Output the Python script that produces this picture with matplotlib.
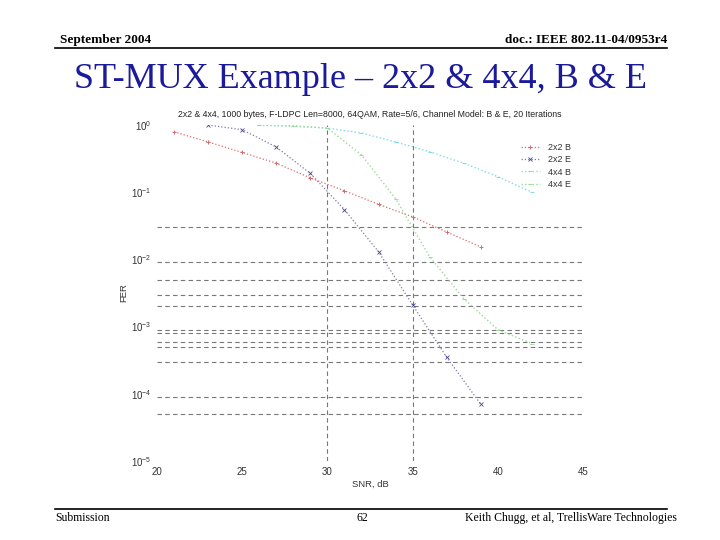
import matplotlib
matplotlib.use("Agg")
import matplotlib.pyplot as plt
from matplotlib.lines import Line2D
import matplotlib.ticker as mticker

# ---------------- data ----------------
snr_2x2_B = [21, 23, 25, 27, 29, 31, 33, 35, 37, 39]
fer_2x2_B = [0.79, 0.56, 0.39, 0.27, 0.163, 0.105, 0.066, 0.043, 0.0256, 0.0153]

snr_2x2_E = [23, 25, 27, 29, 31, 33, 35, 37, 39]
fer_2x2_E = [1.0, 0.85, 0.47, 0.19, 0.055, 0.013, 0.0021, 0.00035, 0.00007]

snr_4x4_B = [26, 28, 30, 32, 34, 36, 38, 40, 42]
fer_4x4_B = [0.99, 0.96, 0.90, 0.76, 0.56, 0.40, 0.27, 0.17, 0.10]

snr_4x4_E = [26, 28, 30, 32, 34, 36, 38, 40, 42]
fer_4x4_E = [1.0, 0.97, 0.90, 0.36, 0.08, 0.011, 0.0026, 0.0009, 0.00056]

series_labels = ["2x2 B", "2x2 E", "4x4 B", "4x4 E"]
x_ticks = [20, 25, 30, 35, 40, 45]
y_ticks = [1e0, 1e-1, 1e-2, 1e-3, 1e-4, 1e-5]
y_tick_labels = [r"$10^{0}$", r"$10^{-1}$", r"$10^{-2}$", r"$10^{-3}$", r"$10^{-4}$", r"$10^{-5}$"]
x_grid = [30, 35]
y_grid = [0.03, 0.01, 0.009, 0.005, 0.003, 0.002, 0.001, 0.0009, 0.0008,
          0.0006, 0.0005, 0.0003, 0.00009, 0.00005]

slide_title = "ST-MUX Example \u2013 2x2 & 4x4, B & E"
plot_title = ("2x2 & 4x4, 1000 bytes, F-LDPC Len=8000, 64QAM, Rate=5/6, "
              "Channel Model: B & E, 20 Iterations")

# ---------------- figure ----------------
plt.rcParams["mathtext.fontset"] = "custom"
plt.rcParams["mathtext.rm"] = "Liberation Sans"
plt.rcParams["mathtext.it"] = "Liberation Sans"
plt.rcParams["mathtext.bf"] = "Liberation Sans"

fig = plt.figure(figsize=(7.2, 5.4), dpi=100)
fig.patch.set_facecolor("white")

serif = "Liberation Serif"
sans = "Liberation Sans"

# header / footer
fig.text(60/720, 1-40/540, "September 2004", family=serif, weight="bold",
         fontsize=9.5, ha="left", va="center")
fig.text(667/720, 1-40/540, "doc.: IEEE 802.11-04/0953r4", family=serif,
         weight="bold", fontsize=9.5, ha="right", va="center")
fig.add_artist(Line2D([55/720, 667/720], [1-48/540, 1-48/540], color="black", lw=1.2))
fig.text(360/720, 1-80/540, slide_title, family=serif, fontsize=26,
         color="#1a1a9a", ha="center", va="center")
fig.add_artist(Line2D([55/720, 667/720], [1-509/540, 1-509/540], color="black", lw=1.2))
fig.text(55/720, 1-518/540, "Submission", family=serif, fontsize=8.5,
         ha="left", va="center")
fig.text(362/720, 1-518/540, "62", family=serif, fontsize=8.5,
         ha="center", va="center")
fig.text(677/720, 1-518/540, "Keith Chugg, et al, TrellisWare Technologies",
         family=serif, fontsize=8.5, ha="right", va="center")

# axes
ax = fig.add_axes([157/720, 1-461/540, (583-157)/720, (461-125)/540])
ax.set_yscale("log")
ax.set_xlim(20, 45)
ax.set_ylim(1e-5, 1)

ax.plot(snr_2x2_B, fer_2x2_B, linestyle=":", color="#d86a6a", lw=0.9,
        marker="+", ms=3.5, mew=0.7, label=series_labels[0])
ax.plot(snr_2x2_E, fer_2x2_E, linestyle=":", color="#7a7aa6", lw=0.9,
        marker="x", ms=2.5, mew=0.6, mec="#4a4a90", label=series_labels[1])
ax.plot(snr_4x4_B, fer_4x4_B, linestyle=":", color="#7fdce4", lw=1.0,
        marker="_", ms=3.5, mew=0.7, label=series_labels[2])
ax.plot(snr_4x4_E, fer_4x4_E, linestyle=":", color="#9adc9a", lw=1.0,
        marker="_", ms=3.5, mew=0.7, label=series_labels[3])

ax.set_xticks(x_ticks)
ax.set_xticklabels([str(t) for t in x_ticks])
ax.set_yticks(y_ticks)
ax.set_yticklabels(y_tick_labels)
ax.xaxis.remove_overlapping_locs = False
ax.set_xticks(x_grid, minor=True)
ax.set_yticks(y_grid, minor=True)
ax.xaxis.set_minor_formatter(mticker.NullFormatter())
ax.yaxis.set_minor_formatter(mticker.NullFormatter())
ax.tick_params(which="both", length=0, labelsize=7, colors="#333333", pad=4)
for lab in ax.get_xticklabels() + ax.get_yticklabels():
    lab.set_family(sans)
ax.grid(False)
ax.grid(which="minor", linestyle=(0, (4, 3)), color="#777777", lw=0.8)

for sp in ax.spines.values():
    sp.set_visible(False)

ax.set_title(plot_title, family=sans, fontsize=6.3, color="#222222", pad=6)
ax.set_xlabel("SNR, dB", family=sans, fontsize=6.8, color="#333333", labelpad=2)
ax.set_ylabel("FER", family=sans, fontsize=6.8, color="#333333", labelpad=2)

leg = ax.legend(loc="upper right", bbox_to_anchor=(0.99, 0.97), frameon=False,
                prop={"family": sans, "size": 6.5}, handlelength=2.2,
                labelspacing=0.35, handletextpad=0.8)
for t in leg.get_texts():
    t.set_color("#333333")

fig.savefig("out.png", dpi=100, facecolor="white")
